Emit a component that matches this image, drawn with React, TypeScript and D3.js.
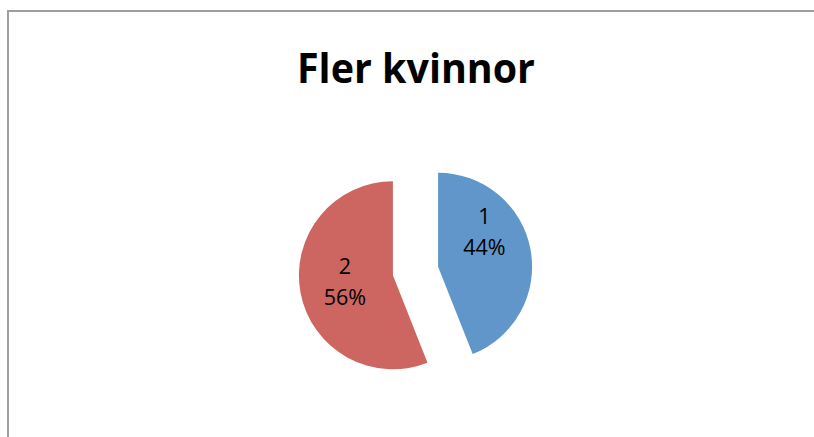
import React from "react";
import * as d3 from "d3";

const categories = ["1", "2"];
const values = [44, 56];
const colors = ["#6096c9", "#cd6660"];
const title = "Fler kvinnor";

export default function App() {
  const W = 814, H = 437;
  const cx = 415.5, cy = 271, r = 94, explode = 23;
  const pie = d3.pie<number>().sort(null).startAngle(0).endAngle(2 * Math.PI);
  const arcs = pie(values);
  const arc = d3.arc<d3.PieArcDatum<number>>().innerRadius(0).outerRadius(r);
  const total = d3.sum(values);
  // label placement tweaks (angle shift, radius fraction) per slice, like Excel best-fit
  const labelTweak = [
    { da: -0.42, rf: 0.6 },
    { da: 0, rf: 0.52 },
  ];
  return (
    <svg width={W} height={H} style={{ position: "absolute", left: 0, top: 0 }}>
      <rect x={0} y={0} width={W} height={H} fill="#fff" />
      <rect x={8} y={11} width={W + 20} height={H + 20} fill="none" stroke="#9e9e9e" strokeWidth={2} />
      <text x={416} y={83} textAnchor="middle" fontFamily="'Open Sans', sans-serif" fontWeight="bold"
        fontSize={42} textLength={238} lengthAdjust="spacingAndGlyphs" fill="#000">{title}</text>
      {arcs.map((a, i) => {
        const mid = (a.startAngle + a.endAngle) / 2;
        const ox = cx + Math.sin(mid) * explode;
        const oy = cy - Math.cos(mid) * explode;
        const la = mid + labelTweak[i].da;
        const lr = r * labelTweak[i].rf;
        const lx = ox + Math.sin(la) * lr;
        const ly = oy - Math.cos(la) * lr;
        const pct = Math.round((values[i] / total) * 100) + "%";
        return (
          <g key={i}>
            <path d={arc(a) || ""} transform={`translate(${ox},${oy})`} fill={colors[i]} />
            <text x={lx} y={ly - 10} textAnchor="middle" fontFamily="'Open Sans', sans-serif" fontSize={21.5} fill="#000">{categories[i]}</text>
            <text x={lx} y={ly + 21} textAnchor="middle" fontFamily="'Open Sans', sans-serif" fontSize={21.5} fill="#000">{pct}</text>
          </g>
        );
      })}
    </svg>
  );
}
